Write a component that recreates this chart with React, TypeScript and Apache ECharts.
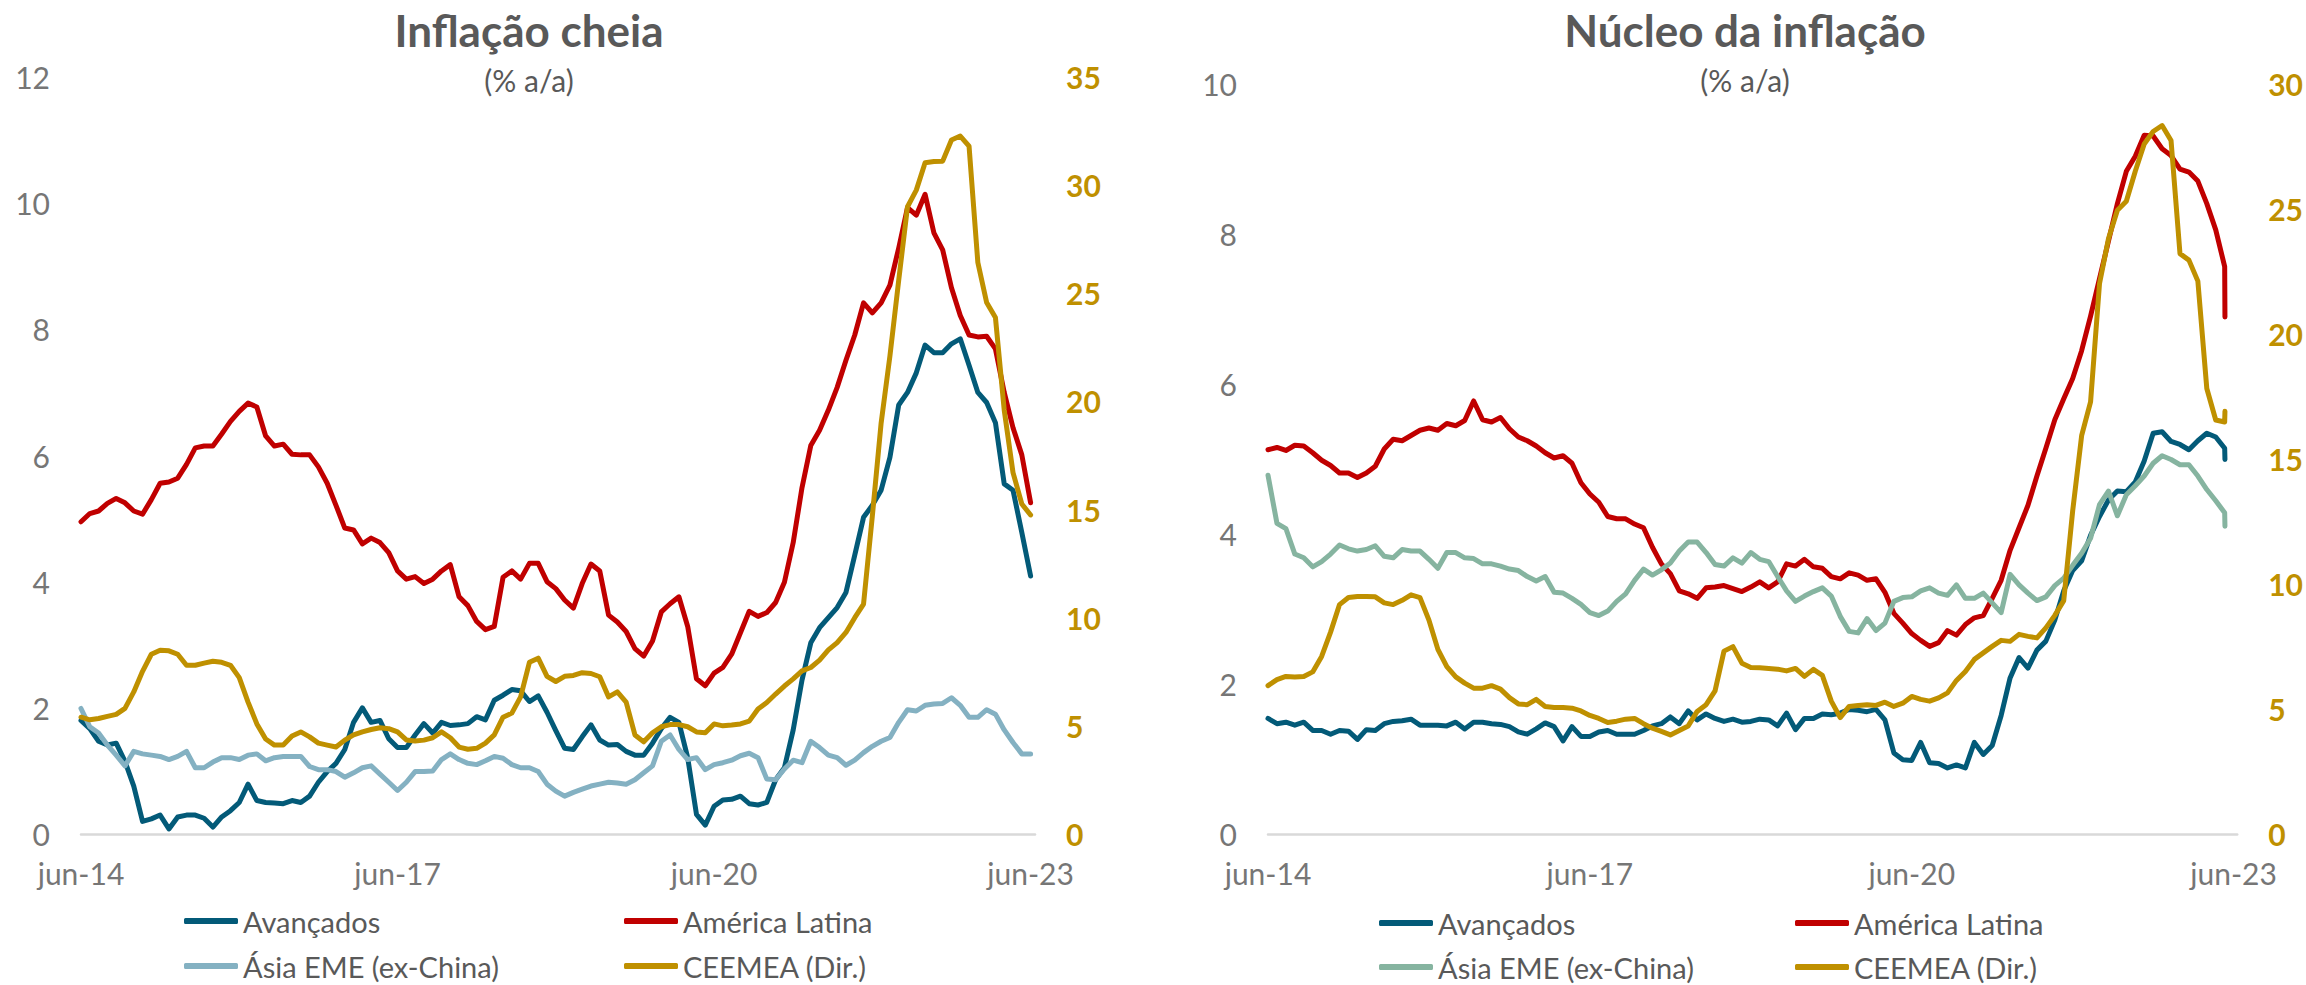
import React, { useEffect, useRef } from "react";
import * as echarts from "echarts";

// Tick labels of the month axis (one every 36 months, starting jun-14)
const xTickLabels = ["jun-14", "jun-17", "jun-20", "jun-23"];
const seriesNames = ["Avançados", "América Latina", "Ásia EME (ex-China)", "CEEMEA (Dir.)"];

// ---------- Inflação cheia (monthly, jun-14 .. jun-23) ----------
const cheiaAvancados = [
  1.8, 1.67, 1.47, 1.41, 1.44, 1.15, 0.76, 0.2, 0.24, 0.3,
  0.08, 0.27, 0.3, 0.3, 0.25, 0.11, 0.27, 0.37, 0.5, 0.79,
  0.53, 0.5, 0.49, 0.48, 0.53, 0.5, 0.6, 0.82, 0.99, 1.12,
  1.34, 1.77, 2.0, 1.77, 1.8, 1.51, 1.37, 1.37, 1.57, 1.75,
  1.6, 1.77, 1.72, 1.73, 1.75, 1.86, 1.81, 2.12, 2.2, 2.29,
  2.27, 2.1, 2.19, 1.93, 1.64, 1.36, 1.34, 1.54, 1.73, 1.49,
  1.41, 1.42, 1.31, 1.25, 1.25, 1.44, 1.67, 1.85, 1.77, 1.21,
  0.31, 0.14, 0.44, 0.54, 0.55, 0.6, 0.48, 0.46, 0.5, 0.86,
  1.05, 1.65, 2.44, 3.03, 3.27, 3.43, 3.59, 3.83, 4.42, 5.02,
  5.21, 5.45, 5.97, 6.8, 7.0, 7.31, 7.75, 7.63, 7.63, 7.77,
  7.85, 7.43, 7.0, 6.84, 6.52, 5.55, 5.45, 4.78, 4.09,
];
const cheiaLatam = [
  4.95, 5.08, 5.12, 5.24, 5.32, 5.25, 5.12, 5.07, 5.3, 5.56,
  5.58, 5.64, 5.86, 6.12, 6.15, 6.15, 6.34, 6.54, 6.7, 6.83,
  6.77, 6.31, 6.15, 6.18, 6.02, 6.01, 6.01, 5.82, 5.56, 5.21,
  4.85, 4.82, 4.6, 4.69, 4.62, 4.46, 4.17, 4.04, 4.08, 3.97,
  4.04, 4.17, 4.27, 3.76, 3.62, 3.37, 3.24, 3.29, 4.07, 4.17,
  4.04, 4.29, 4.29, 4.0, 3.89, 3.71, 3.58, 3.97, 4.28, 4.17,
  3.47, 3.36, 3.21, 2.94, 2.82, 3.06, 3.52, 3.65, 3.76, 3.29,
  2.46, 2.35, 2.55, 2.64, 2.85, 3.19, 3.53, 3.45, 3.51, 3.67,
  3.99, 4.62, 5.49, 6.16, 6.4, 6.72, 7.08, 7.51, 7.91, 8.42,
  8.26, 8.42, 8.7, 9.29, 9.93, 9.81, 10.14, 9.53, 9.26, 8.66,
  8.22, 7.91, 7.88, 7.89, 7.69, 7.0, 6.44, 6.01, 5.25,
];
const cheiaAsia = [
  1.99, 1.7, 1.6, 1.41, 1.25, 1.08, 1.31, 1.27, 1.25, 1.23,
  1.18, 1.23, 1.31, 1.05, 1.05, 1.14, 1.21, 1.21, 1.18, 1.25,
  1.27, 1.16, 1.21, 1.23, 1.23, 1.23, 1.07, 1.02, 1.02, 0.99,
  0.9, 0.97, 1.05, 1.08, 0.95, 0.82, 0.69, 0.82, 0.99, 0.99,
  1.0, 1.18, 1.27, 1.18, 1.12, 1.1, 1.16, 1.23, 1.2, 1.1,
  1.05, 1.05, 0.99, 0.79, 0.68, 0.6, 0.66, 0.71, 0.76, 0.79,
  0.82, 0.81, 0.79, 0.86, 0.97, 1.08, 1.47, 1.57, 1.34, 1.18,
  1.21, 1.02, 1.1, 1.13, 1.17, 1.24, 1.28, 1.21, 0.87, 0.86,
  1.03, 1.17, 1.13, 1.47, 1.37, 1.25, 1.21, 1.09, 1.17, 1.29,
  1.39, 1.47, 1.53, 1.77, 1.97, 1.95, 2.04, 2.06, 2.07, 2.16,
  2.04, 1.85, 1.85, 1.97, 1.9, 1.65, 1.45, 1.27, 1.27,
];
const cheiaCeemea = [
  5.4, 5.28, 5.34, 5.44, 5.53, 5.81, 6.57, 7.52, 8.31, 8.5,
  8.47, 8.31, 7.8, 7.8, 7.9, 7.99, 7.94, 7.8, 7.23, 6.1,
  5.09, 4.39, 4.11, 4.11, 4.53, 4.72, 4.49, 4.2, 4.11, 4.02,
  4.34, 4.58, 4.72, 4.83, 4.91, 4.87, 4.72, 4.35, 4.3, 4.34,
  4.45, 4.72, 4.45, 4.02, 3.92, 3.96, 4.2, 4.58, 5.4, 5.59,
  6.34, 7.94, 8.13, 7.29, 7.05, 7.29, 7.33, 7.46, 7.42, 7.27,
  6.34, 6.57, 6.1, 4.58, 4.26, 4.68, 4.96, 5.06, 5.06, 4.96,
  4.72, 4.68, 5.09, 5.0, 5.04, 5.09, 5.22, 5.78, 6.08, 6.47,
  6.84, 7.17, 7.54, 7.7, 8.04, 8.51, 8.85, 9.32, 10.0, 10.63,
  14.7, 19.0, 22.1, 25.6, 29.0, 29.77, 31.04, 31.09, 31.11, 32.09,
  32.27, 31.8, 26.42, 24.57, 23.88, 19.6, 16.71, 15.26, 14.75,
];

// ---------- Núcleo da inflação (monthly, jun-14 .. may-23) ----------
const nucleoAvancados = [
  1.54, 1.47, 1.49, 1.45, 1.49, 1.38, 1.38, 1.33, 1.38, 1.37,
  1.26, 1.39, 1.38, 1.47, 1.5, 1.51, 1.53, 1.45, 1.45, 1.45,
  1.44, 1.49, 1.4, 1.49, 1.49, 1.47, 1.46, 1.43, 1.36, 1.33,
  1.4, 1.48, 1.43, 1.24, 1.43, 1.3, 1.3, 1.36, 1.38, 1.33,
  1.33, 1.33, 1.38, 1.44, 1.47, 1.56, 1.47, 1.64, 1.52, 1.6,
  1.54, 1.5, 1.53, 1.49, 1.5, 1.53, 1.52, 1.44, 1.61, 1.39,
  1.54, 1.54, 1.6, 1.59, 1.61, 1.66, 1.65, 1.63, 1.66, 1.52,
  1.08, 0.99, 0.98, 1.22, 0.95, 0.94, 0.88, 0.92, 0.88, 1.22,
  1.06, 1.18, 1.58, 2.08, 2.35, 2.21, 2.45, 2.57, 2.85, 3.24,
  3.51, 3.64, 3.98, 4.23, 4.45, 4.57, 4.56, 4.69, 4.97, 5.34,
  5.36, 5.23, 5.19, 5.12, 5.24, 5.34, 5.29, 5.14,
];
const nucleoLatam = [
  5.12, 5.15, 5.11, 5.18, 5.17, 5.08, 4.98, 4.91, 4.81, 4.81,
  4.75, 4.81, 4.9, 5.13, 5.26, 5.24, 5.31, 5.38, 5.41, 5.38,
  5.47, 5.44, 5.51, 5.77, 5.52, 5.49, 5.55, 5.4, 5.29, 5.24,
  5.17, 5.08, 5.01, 5.04, 4.94, 4.68, 4.53, 4.42, 4.23, 4.2,
  4.2, 4.13, 4.08, 3.82, 3.6, 3.47, 3.24, 3.2, 3.14, 3.28,
  3.29, 3.31, 3.27, 3.23, 3.29, 3.36, 3.28, 3.36, 3.6, 3.57,
  3.66, 3.56, 3.54, 3.43, 3.4, 3.48, 3.45, 3.38, 3.4, 3.22,
  2.94, 2.81, 2.67, 2.58, 2.5, 2.55, 2.71, 2.65, 2.79, 2.88,
  2.91, 3.14, 3.38, 3.78, 4.08, 4.38, 4.77, 5.14, 5.52, 5.8,
  6.07, 6.44, 6.9, 7.4, 7.9, 8.4, 8.83, 9.03, 9.31, 9.3,
  9.13, 9.04, 8.86, 8.82, 8.7, 8.4, 8.05, 7.56,
];
const nucleoAsia = [
  4.78, 4.14, 4.07, 3.73, 3.68, 3.56, 3.63, 3.73, 3.85, 3.8,
  3.77, 3.79, 3.84, 3.7, 3.68, 3.79, 3.77, 3.77, 3.66, 3.54,
  3.75, 3.75, 3.68, 3.67, 3.6, 3.6, 3.57, 3.53, 3.51, 3.43,
  3.37, 3.43, 3.22, 3.21, 3.14, 3.06, 2.95, 2.91, 2.97, 3.1,
  3.2, 3.38, 3.53, 3.45, 3.52, 3.61, 3.77, 3.89, 3.89, 3.75,
  3.59, 3.57, 3.68, 3.61, 3.75, 3.66, 3.63, 3.43, 3.24, 3.1,
  3.17, 3.23, 3.28, 3.17, 2.9, 2.7, 2.68, 2.87, 2.71, 2.81,
  3.1, 3.15, 3.16, 3.24, 3.28, 3.21, 3.18, 3.32, 3.14, 3.14,
  3.21, 3.08, 2.95, 3.46, 3.32, 3.21, 3.11, 3.16, 3.31, 3.41,
  3.58, 3.74, 3.94, 4.39, 4.57, 4.24, 4.52, 4.64, 4.77, 4.94,
  5.04, 4.99, 4.92, 4.92, 4.77, 4.59, 4.44, 4.28,
];
const nucleoCeemea = [
  5.93, 6.17, 6.3, 6.28, 6.3, 6.48, 7.1, 8.07, 9.17, 9.45,
  9.49, 9.49, 9.48, 9.24, 9.17, 9.34, 9.56, 9.45, 8.55, 7.38,
  6.69, 6.28, 6.03, 5.83, 5.83, 5.93, 5.79, 5.45, 5.2, 5.17,
  5.38, 5.1, 5.06, 5.06, 5.03, 4.92, 4.74, 4.62, 4.46, 4.51,
  4.59, 4.62, 4.41, 4.23, 4.1, 3.96, 4.14, 4.32, 4.9, 5.17,
  5.72, 7.31, 7.49, 6.83, 6.66, 6.65, 6.62, 6.59, 6.52, 6.62,
  6.3, 6.58, 6.34, 5.31, 4.65, 5.1, 5.14, 5.17, 5.14, 5.27,
  5.1, 5.23, 5.5, 5.38, 5.31, 5.44, 5.64, 6.14, 6.5, 6.98,
  7.24, 7.5, 7.74, 7.7, 7.98, 7.9, 7.84, 8.24, 8.74, 9.33,
  12.92, 15.92, 17.27, 22.0, 23.79, 24.93, 25.29, 26.49, 27.58, 28.08,
  28.32, 27.72, 23.2, 22.94, 22.1, 17.81, 16.55, 16.47,
];
// Latest (partial-month) observation of each núcleo series, in legend order
const nucleoUltimaObs = [4.99, 6.89, 4.1, 16.9];

const FONT = "Lato, 'Open Sans', sans-serif";
const GRAY_AXIS = "#767676";
const GRAY_TEXT = "#595959";
const GOLD = "#BF9000";

function toPoints(values: number[], last?: number) {
  const pts: number[][] = values.map((v, i) => [i, v]);
  if (last !== undefined) pts.push([values.length - 1 + 0.03, last]);
  return pts;
}

type ChartCfg = {
  title: string;
  titleX: number;
  grid: { left: number; top: number; width: number; height: number };
  xMax: number;
  leftMax: number;
  rightMax: number;
  colors: string[];
  data: number[][][];
  legendPos: { left: number; top: number }[];
};

function buildOption(cfg: ChartCfg): any {
  const series = cfg.data.map((d, i) => ({
    name: seriesNames[i],
    type: "line",
    xAxisIndex: 0,
    yAxisIndex: i === 3 ? 1 : 0,
    data: d,
    symbol: "none",
    showSymbol: false,
    smooth: false,
    lineStyle: { width: 5, color: cfg.colors[i], join: "round", cap: "round" },
    itemStyle: { color: cfg.colors[i] },
    emphasis: { disabled: true },
    z: 2 + i,
  }));
  const legend = seriesNames.map((n, i) => ({
    data: [n],
    left: cfg.legendPos[i].left,
    top: cfg.legendPos[i].top,
    padding: 0,
    icon: "roundRect",
    itemWidth: 54,
    itemHeight: 6,
    selectedMode: false,
    textStyle: { fontFamily: FONT, fontSize: 29, lineHeight: 30, color: GRAY_TEXT },
  }));
  const yBase = {
    type: "value",
    min: 0,
    axisLine: { show: false },
    axisTick: { show: false },
    splitLine: { show: false },
  };
  return {
    animation: false,
    backgroundColor: "#ffffff",
    textStyle: { fontFamily: FONT },
    grid: { ...cfg.grid, containLabel: false },
    graphic: [
      {
        type: "text",
        x: cfg.titleX,
        y: 30,
        style: {
          text: cfg.title,
          fill: GRAY_TEXT,
          font: `bold 44px ${FONT}`,
          textAlign: "center",
          textVerticalAlign: "middle",
        },
      },
      {
        type: "text",
        x: cfg.titleX,
        y: 80,
        style: {
          text: "(% a/a)",
          fill: GRAY_TEXT,
          font: `30px ${FONT}`,
          textAlign: "center",
          textVerticalAlign: "middle",
        },
      },
    ],
    legend,
    xAxis: {
      type: "value",
      min: 0,
      max: cfg.xMax,
      interval: 36,
      axisLine: { show: true, onZero: false, lineStyle: { color: "#D9D9D9", width: 2.5 } },
      axisTick: { show: false },
      splitLine: { show: false },
      axisLabel: {
        margin: 24,
        color: GRAY_AXIS,
        fontFamily: FONT,
        fontSize: 30,
        formatter: (v: number) => (v % 36 === 0 ? xTickLabels[v / 36] ?? "" : ""),
      },
    },
    yAxis: [
      {
        ...yBase,
        max: cfg.leftMax,
        interval: 2,
        position: "left",
        axisLabel: { margin: 31, color: GRAY_AXIS, fontFamily: FONT, fontSize: 30 },
      },
      {
        ...yBase,
        max: cfg.rightMax,
        interval: 5,
        position: "right",
        axisLabel: { margin: 31, color: GOLD, fontWeight: "bold", fontFamily: FONT, fontSize: 30 },
      },
    ],
    series,
  };
}

const cheiaCfg: ChartCfg = {
  title: "Inflação cheia",
  titleX: 529,
  grid: { left: 81, top: 77, width: 954, height: 757 },
  xMax: 108.5,
  leftMax: 12,
  rightMax: 35,
  colors: ["#035A78", "#C00000", "#84B1C2", GOLD],
  data: [toPoints(cheiaAvancados), toPoints(cheiaLatam), toPoints(cheiaAsia), toPoints(cheiaCeemea)],
  legendPos: [
    { left: 184, top: 906 },
    { left: 624, top: 906 },
    { left: 184, top: 951 },
    { left: 624, top: 951 },
  ],
};

const nucleoCfg: ChartCfg = {
  title: "Núcleo da inflação",
  titleX: 1745 - 1153,
  grid: { left: 115, top: 83.5, width: 970, height: 750.5 },
  xMax: 108.4,
  leftMax: 10,
  rightMax: 30,
  colors: ["#035A78", "#C00000", "#86B4A0", GOLD],
  data: [
    toPoints(nucleoAvancados, nucleoUltimaObs[0]),
    toPoints(nucleoLatam, nucleoUltimaObs[1]),
    toPoints(nucleoAsia, nucleoUltimaObs[2]),
    toPoints(nucleoCeemea, nucleoUltimaObs[3]),
  ],
  legendPos: [
    { left: 226, top: 908 },
    { left: 642, top: 908 },
    { left: 226, top: 952 },
    { left: 642, top: 952 },
  ],
};

function Chart({ cfg, left }: { cfg: ChartCfg; left: number }) {
  const ref = useRef<HTMLDivElement>(null);
  useEffect(() => {
    if (!ref.current) return;
    const chart = echarts.init(ref.current, undefined, { renderer: "svg" });
    chart.setOption(buildOption(cfg));
    return () => chart.dispose();
  }, [cfg]);
  return (
    <div
      ref={ref}
      style={{ position: "absolute", left, top: 0, width: 1153, height: 985 }}
    />
  );
}

export default function App() {
  return (
    <div
      style={{
        position: "absolute",
        left: 0,
        top: 0,
        width: 2306,
        height: 985,
        background: "#ffffff",
        overflow: "hidden",
      }}
    >
      <Chart cfg={cheiaCfg} left={0} />
      <Chart cfg={nucleoCfg} left={1153} />
    </div>
  );
}
